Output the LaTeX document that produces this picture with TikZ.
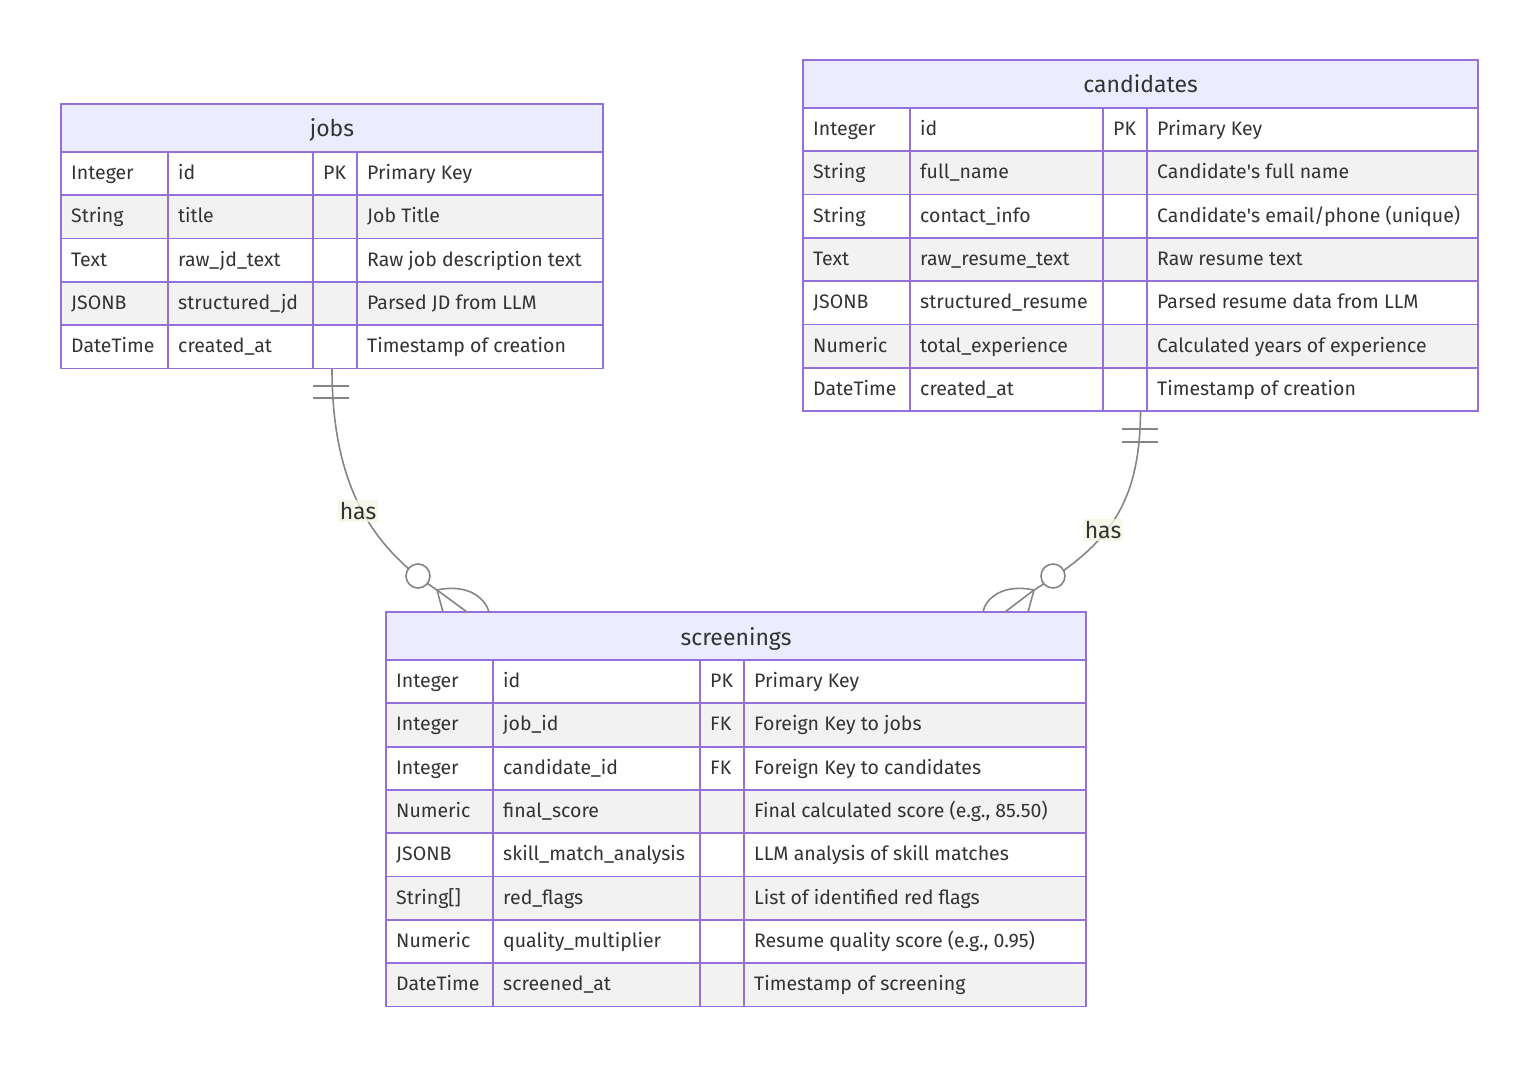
\documentclass[tikz,border=0pt]{standalone}
\usepackage{fontspec}
\setmainfont{Fira Sans}
\newcommand\sq{\XeTeXglyph\XeTeXglyphindex "quotesingle"\relax}
\definecolor{erborder}{HTML}{9370DB}
\definecolor{erhead}{HTML}{ECECFF}
\definecolor{eralt}{HTML}{F2F2F2}
\definecolor{ertext}{HTML}{333333}
\definecolor{erline}{HTML}{858585}
\definecolor{erlabel}{HTML}{F4F8E4}
\tikzset{
  cellline/.style={draw=erborder, line width=1.8pt},
  celltext/.style={text=ertext, inner sep=0pt, anchor=base west, font=\fontsize{19.5}{22}\selectfont},
  headtext/.style={text=ertext, inner sep=0pt, font=\fontsize{23}{26}\selectfont},
  tablebox/.style={inner sep=0pt, outer sep=0pt},
  conn/.style={draw=erline, line width=1.6pt},
  zcirc/.style={circle, draw=erline, fill=white, line width=1.6pt, minimum size=24pt, inner sep=0pt},
  lab/.style={fill=erlabel, fill opacity=0.8, text opacity=1, text=ertext, inner sep=2pt, font=\fontsize{23}{26}\selectfont}
}
% #1 name, #2 ytop, #3 nrows, #4 title, #5 rows
\newcommand\ertable[5]{%
  \pgfmathsetmacro\ybot{#2+48+43.3*#3}
  \node[tablebox, minimum width={(\xe-\xa)*1pt}, minimum height={(\ybot-#2)*1pt}, anchor=north west] (#1) at (\xa,#2) {};
  \path[fill=erhead] (\xa,#2) rectangle (\xe,#2+48);
  \node[headtext, anchor=base] (#1-title) at ({(\xa+\xe)/2}, #2+33) {#4};
  \foreach \ty/\nm/\ky/\cm [count=\i] in {#5} {
    \pgfmathsetmacro\ya{#2+48+43.3*(\i-1)}
    \pgfmathsetmacro\yb{\ya+43.3}
    \pgfmathsetmacro\ym{\ya+21.65}
    \ifodd\i \def\rf{white}\else\def\rf{eralt}\fi
    \path[cellline, fill=\rf] (\xa,\ya) rectangle (\xb,\yb);
    \path[cellline, fill=\rf] (\xb,\ya) rectangle (\xc,\yb);
    \path[cellline, fill=\rf] (\xc,\ya) rectangle (\xd,\yb);
    \path[cellline, fill=\rf] (\xd,\ya) rectangle (\xe,\yb);
    \node[celltext] (#1-\i-t) at (\xa+10,\ym+6) {\ty};
    \node[celltext] (#1-\i-n) at (\xb+10,\ym+6) {\nm};
    \node[celltext] (#1-\i-k) at (\xc+10,\ym+6) {\ky};
    \node[celltext] (#1-\i-c) at (\xd+10,\ym+6) {\cm};
  }
  \draw[cellline] (#1.north west) rectangle (#1.south east);
  \draw[cellline] (\xa,#2+48) -- (\xe,#2+48);
}
\begin{document}
\begin{tikzpicture}[x=1pt, y=-1pt]
\useasboundingbox (0,0) rectangle (1537,1067);

% jobs
\def\xa{61}\def\xb{168}\def\xc{313}\def\xd{357}\def\xe{603}
\ertable{jobs}{104}{5}{jobs}{
  {Integer/id/PK/Primary Key},
  {String/title//Job Title},
  {Text/raw\_jd\_text//Raw job description text},
  {JSONB/structured\_jd//Parsed JD from LLM},
  {DateTime/created\_at//Timestamp of creation}}

% candidates
\def\xa{803}\def\xb{910}\def\xc{1103}\def\xd{1147}\def\xe{1478}
\ertable{candidates}{60}{7}{candidates}{
  {Integer/id/PK/Primary Key},
  {String/full\_name//Candidate\sq s full name},
  {String/contact\_info//{Candidate\sq s email/phone (unique)}},
  {Text/raw\_resume\_text//Raw resume text},
  {JSONB/structured\_resume//Parsed resume data from LLM},
  {Numeric/total\_experience//Calculated years of experience},
  {DateTime/created\_at//Timestamp of creation}}

% screenings
\def\xa{386}\def\xb{493}\def\xc{700}\def\xd{744}\def\xe{1086}
\ertable{screenings}{612}{8}{screenings}{
  {Integer/id/PK/Primary Key},
  {Integer/job\_id/FK/Foreign Key to jobs},
  {Integer/candidate\_id/FK/Foreign Key to candidates},
  {Numeric/final\_score//{Final calculated score (e.g., 85.50)}},
  {JSONB/skill\_match\_analysis//LLM analysis of skill matches},
  {String[]/red\_flags//List of identified red flags},
  {Numeric/quality\_multiplier//{Resume quality score (e.g., 0.95)}},
  {DateTime/screened\_at//Timestamp of screening}}

% jobs -> screenings
\coordinate (jfoot) at (437,590);
\coordinate (jf1) at (443,612);
\coordinate (jf2) at (467,612);
\coordinate (jf3) at (489,612);
\coordinate (jt1a) at (313,386); \coordinate (jt1b) at (349,386);
\coordinate (jt2a) at (313,398); \coordinate (jt2b) at (349,398);
\draw[conn] (jobs.south) .. controls (332,480) and (368,545) .. (jfoot);
\draw[conn] (jt1a) -- (jt1b);
\draw[conn] (jt2a) -- (jt2b);
\draw[conn] (jfoot) -- (jf1);
\draw[conn] (jfoot) -- (jf2);
\draw[conn] (jfoot) .. controls (470,583) and (486,600) .. (jf3);
\node[zcirc] (jcirc) at (418,576) {};
\node[lab] (hasL) at (358,511) {has};

% candidates -> screenings
\coordinate (cfoot) at (1034,590);
\coordinate (cf1) at (1028,612);
\coordinate (cf2) at (1005,612);
\coordinate (cf3) at (983,612);
\coordinate (ct1a) at (1122,429); \coordinate (ct1b) at (1158,429);
\coordinate (ct2a) at (1122,442); \coordinate (ct2b) at (1158,442);
\draw[conn] (candidates.south) .. controls (1140,505) and (1108,545) .. (cfoot);
\draw[conn] (ct1a) -- (ct1b);
\draw[conn] (ct2a) -- (ct2b);
\draw[conn] (cfoot) -- (cf1);
\draw[conn] (cfoot) -- (cf2);
\draw[conn] (cfoot) .. controls (1001,583) and (985,600) .. (cf3);
\node[zcirc] (ccirc) at (1053,576) {};
\node[lab] (hasR) at (1103,530) {has};
\end{tikzpicture}
\end{document}
